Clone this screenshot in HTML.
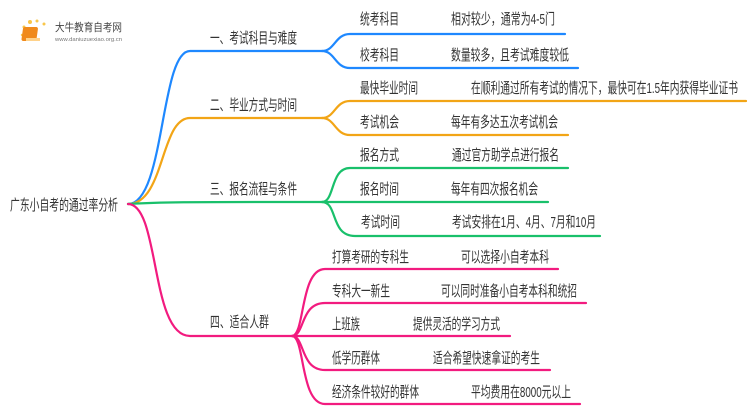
<!DOCTYPE html>
<html><head><meta charset="utf-8"><style>
body{margin:0;width:750px;height:410px;background:#fff;overflow:hidden}
svg text{font-family:"Liberation Sans","Noto Sans CJK SC",sans-serif;font-size:15px;fill:#333}
</style></head><body>
<svg width="750" height="410" xmlns="http://www.w3.org/2000/svg">
<g fill="none" stroke-width="2.2" stroke-linecap="round">
<path d="M128,204 C165,204 160,51 190,51 L322,51" stroke="#1e88ff"/>
<path d="M322,51 C335,51 335,34 350,34 L565,34" stroke="#1e88ff"/>
<path d="M322,51 C335,51 335,68 350,68 L578,68" stroke="#1e88ff"/>
<path d="M128,204 C165,204 160,118 190,118 L322,118" stroke="#f2a516"/>
<path d="M322,118 C335,118 335,101 350,101 L746,101" stroke="#f2a516"/>
<path d="M322,118 C335,118 335,135 350,135 L568,135" stroke="#f2a516"/>
<path d="M128,204 C160,202 180,202 322,202" stroke="#19c06b"/>
<path d="M322,202 C335,202 330,168 350,168 L568,168" stroke="#19c06b"/>
<path d="M322,202 L548,202" stroke="#19c06b"/>
<path d="M322,202 C338,202 330,236 355,236 L600,236" stroke="#19c06b"/>
<path d="M128,204 C160,204 150,336 190,336 L292,336" stroke="#f21b7f"/>
<path d="M292,336 C305,336 300,269 325,269 L558,269" stroke="#f21b7f"/>
<path d="M292,336 C305,336 300,303 325,303 L586,303" stroke="#f21b7f"/>
<path d="M292,336 L510,336" stroke="#f21b7f"/>
<path d="M292,336 C305,336 300,370 325,370 L550,370" stroke="#f21b7f"/>
<path d="M292,336 C305,336 300,404 325,404 L580,404" stroke="#f21b7f"/>
</g>
<g>
<circle cx="30" cy="22" r="2" fill="#f9c64a"/><circle cx="37" cy="21" r="1.5" fill="#f9c64a"/><circle cx="24" cy="27" r="1.5" fill="#f9c64a"/><circle cx="44" cy="24" r="1.5" fill="#f9c64a"/><circle cx="22" cy="35" r="1.2" fill="#f9c64a"/>
<rect x="27" y="27" width="15" height="14" rx="2" fill="#f08a1c" transform="skewX(-8)"/>
<rect x="26" y="38" width="14" height="3" fill="#ffd28a"/>
<text x="55" y="31" style="font-size:11px;fill:#444" textLength="67" lengthAdjust="spacingAndGlyphs">大牛教育自考网</text>
<text x="55" y="41" style="font-size:5.5px;fill:#777" textLength="67" lengthAdjust="spacingAndGlyphs">www.daniuzuexiao.org.cn</text>
</g>
<g>
<text x="10" y="210" textLength="108" lengthAdjust="spacingAndGlyphs">广东小自考的通过率分析</text>
<text x="210" y="43" textLength="87" lengthAdjust="spacingAndGlyphs">一、考试科目与难度</text>
<text x="210" y="110" textLength="87" lengthAdjust="spacingAndGlyphs">二、毕业方式与时间</text>
<text x="210" y="194" textLength="87" lengthAdjust="spacingAndGlyphs">三、报名流程与条件</text>
<text x="210" y="327" textLength="59" lengthAdjust="spacingAndGlyphs">四、适合人群</text>
<text x="360" y="24" textLength="39" lengthAdjust="spacingAndGlyphs">统考科目</text><text x="451" y="24" textLength="104" lengthAdjust="spacingAndGlyphs">相对较少，通常为4-5门</text>
<text x="360" y="60" textLength="39" lengthAdjust="spacingAndGlyphs">校考科目</text><text x="451" y="60" textLength="118" lengthAdjust="spacingAndGlyphs">数量较多，且考试难度较低</text>
<text x="360" y="93" textLength="58" lengthAdjust="spacingAndGlyphs">最快毕业时间</text><text x="471" y="93" textLength="267" lengthAdjust="spacingAndGlyphs">在顺利通过所有考试的情况下，最快可在1.5年内获得毕业证书</text>
<text x="360" y="127" textLength="39" lengthAdjust="spacingAndGlyphs">考试机会</text><text x="451" y="127" textLength="107" lengthAdjust="spacingAndGlyphs">每年有多达五次考试机会</text>
<text x="360" y="160" textLength="39" lengthAdjust="spacingAndGlyphs">报名方式</text><text x="452" y="160" textLength="107" lengthAdjust="spacingAndGlyphs">通过官方助学点进行报名</text>
<text x="360" y="194" textLength="39" lengthAdjust="spacingAndGlyphs">报名时间</text><text x="451" y="194" textLength="87" lengthAdjust="spacingAndGlyphs">每年有四次报名机会</text>
<text x="361" y="227" textLength="39" lengthAdjust="spacingAndGlyphs">考试时间</text><text x="452" y="227" textLength="144" lengthAdjust="spacingAndGlyphs">考试安排在1月、4月、7月和10月</text>
<text x="332" y="262" textLength="77" lengthAdjust="spacingAndGlyphs">打算考研的专科生</text><text x="461" y="262" textLength="88" lengthAdjust="spacingAndGlyphs">可以选择小自考本科</text>
<text x="332" y="296" textLength="58" lengthAdjust="spacingAndGlyphs">专科大一新生</text><text x="441" y="296" textLength="136" lengthAdjust="spacingAndGlyphs">可以同时准备小自考本科和统招</text>
<text x="332" y="329" textLength="28" lengthAdjust="spacingAndGlyphs">上班族</text><text x="413" y="329" textLength="87" lengthAdjust="spacingAndGlyphs">提供灵活的学习方式</text>
<text x="332" y="363" textLength="48" lengthAdjust="spacingAndGlyphs">低学历群体</text><text x="433" y="363" textLength="107" lengthAdjust="spacingAndGlyphs">适合希望快速拿证的考生</text>
<text x="332" y="397" textLength="87" lengthAdjust="spacingAndGlyphs">经济条件较好的群体</text><text x="471" y="397" textLength="100" lengthAdjust="spacingAndGlyphs">平均费用在8000元以上</text>
</g>
</svg>
</body></html>
